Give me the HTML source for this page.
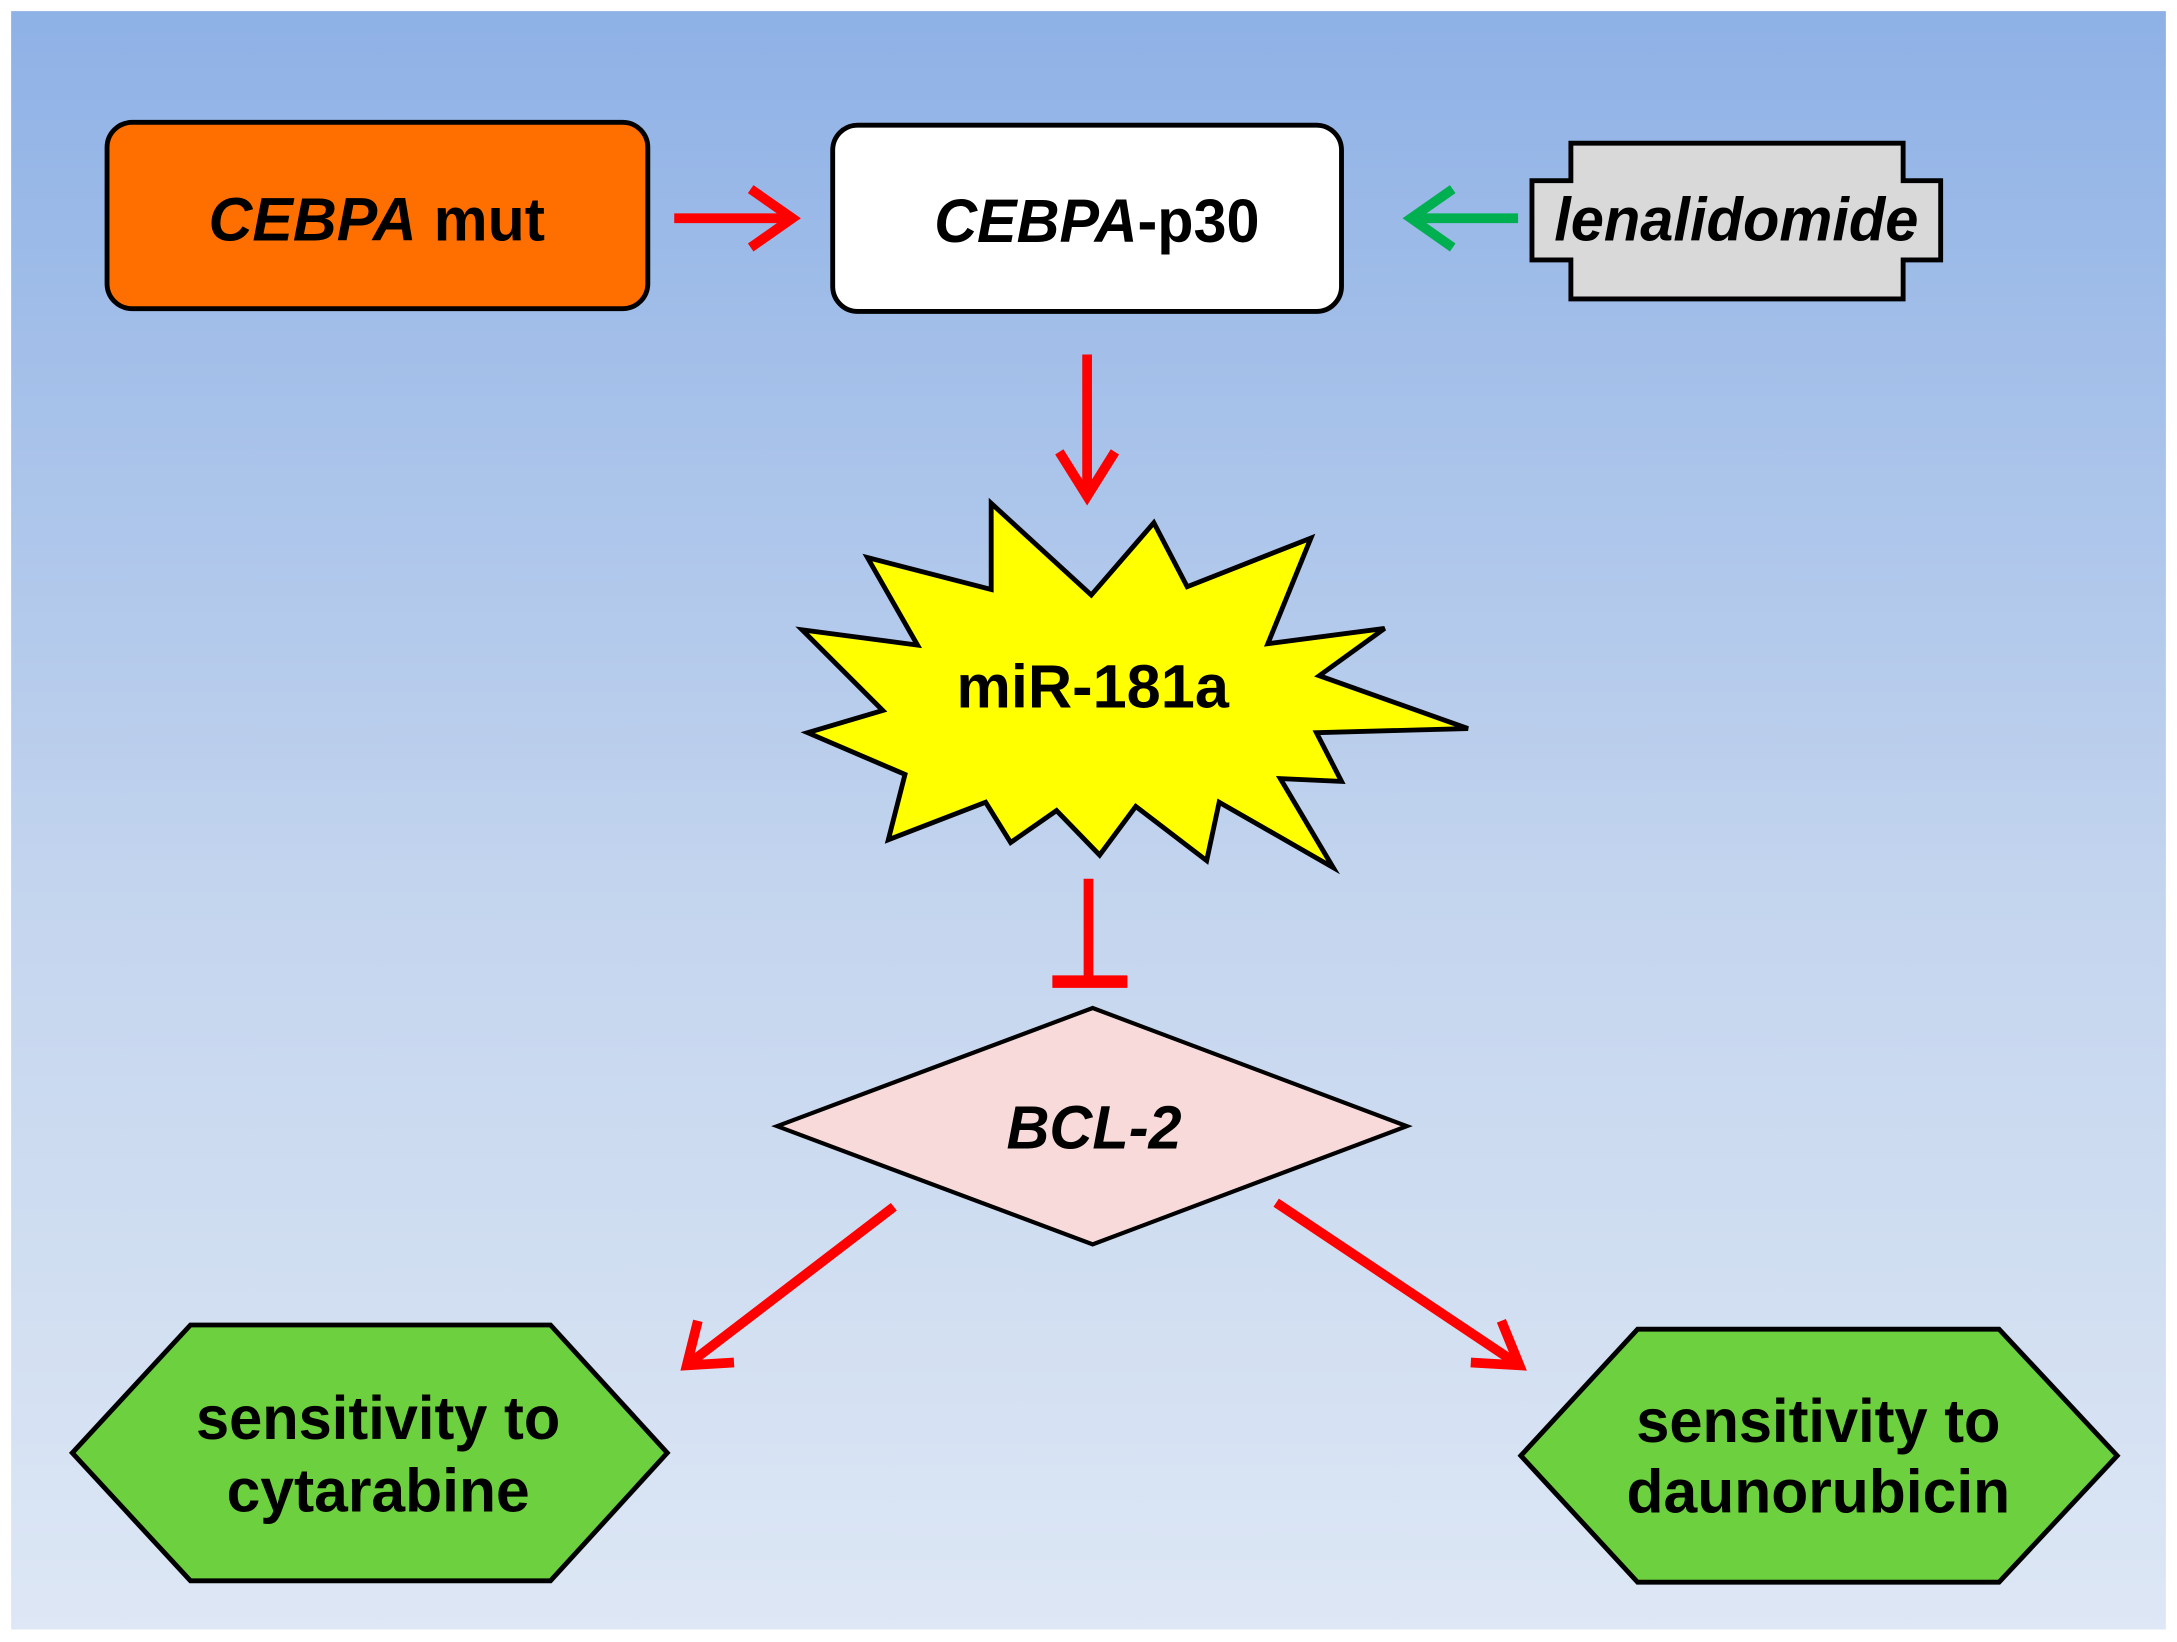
<!DOCTYPE html>
<html><head><meta charset="utf-8"><style>html,body{margin:0;padding:0;background:#fff}svg{display:block}</style></head>
<body>
<svg width="2177" height="1642" viewBox="0 0 1566 1181" preserveAspectRatio="none" xmlns="http://www.w3.org/2000/svg" font-family="Liberation Sans, Arial, sans-serif" font-weight="bold">
<defs>
<linearGradient id="bg" x1="0" y1="0" x2="0" y2="1">
<stop offset="0" stop-color="#8eb1e6"/>
<stop offset="0.55" stop-color="#c4d5ee"/>
<stop offset="1" stop-color="#dde7f5"/>
</linearGradient>
</defs>
<rect x="0" y="0" width="1566" height="1181" fill="#fff"/>
<rect x="8" y="8" width="1550" height="1164" fill="url(#bg)"/>

<rect x="77" y="88" width="389" height="134" rx="18" fill="#ff6f00" stroke="#000" stroke-width="3.5"/>
<text x="271" y="173" font-size="44" text-anchor="middle" textLength="242" lengthAdjust="spacingAndGlyphs"><tspan font-style="italic">CEBPA</tspan> mut</text>

<rect x="599" y="90" width="366" height="134" rx="18" fill="#fff" stroke="#000" stroke-width="3.5"/>
<text x="789" y="174" font-size="44" text-anchor="middle" textLength="234" lengthAdjust="spacingAndGlyphs"><tspan font-style="italic">CEBPA</tspan>-p30</text>

<polygon points="1130,103 1369,103 1369,130 1396,130 1396,187 1369,187 1369,215 1130,215 1130,187 1102,187 1102,130 1130,130" fill="#d9d9d9" stroke="#000" stroke-width="3.5"/>
<text x="1249" y="173" font-size="44" font-style="italic" text-anchor="middle" textLength="262" lengthAdjust="spacingAndGlyphs">lenalidomide</text>

<g stroke="#ff0000" stroke-width="7" fill="none" stroke-linecap="butt">
<line x1="485" y1="157" x2="570" y2="157"/>
<polyline points="540,136 570,157 540,178"/>
<line x1="782" y1="255" x2="782" y2="357"/>
<polyline points="762,325 782,357 802,325"/>
<line x1="783" y1="632" x2="783" y2="704"/>
<line x1="757" y1="706" x2="811" y2="706" stroke-width="9"/>
<line x1="643" y1="868" x2="494" y2="982"/>
<polyline points="502,950 494,982 528,980"/>
<line x1="918" y1="865" x2="1093" y2="982"/>
<polyline points="1058,980 1093,982 1080,950"/>
</g>
<g stroke="#00b050" stroke-width="7" fill="none">
<line x1="1092" y1="157" x2="1015" y2="157"/>
<polyline points="1045,136 1015,157 1045,178"/>
</g>

<polygon points="713,362 713,424 624,401 660,464 577,453 635,511 581,527 651,557 639,604 709,577 727,606 760,583 791,615 817,580 868,619 877,577 959,624 921,560 965,562 947,527 1056,524 949,486 996,452 912,463 943,387 854,422 830,376 785,428" fill="#ffff00" stroke="#000" stroke-width="3.5"/>
<text x="786" y="509" font-size="44" text-anchor="middle" textLength="196" lengthAdjust="spacingAndGlyphs">miR-181a</text>

<polygon points="559,810 786,725 1012,810 786,895" fill="#f8dada" stroke="#000" stroke-width="3"/>
<text x="787" y="826" font-size="44" font-style="italic" text-anchor="middle" textLength="126" lengthAdjust="spacingAndGlyphs">BCL-2</text>

<polygon points="52,1045 137,953 396,953 480,1045 396,1137 137,1137" fill="#6dd03e" stroke="#000" stroke-width="3.5"/>
<text x="272" y="1035" font-size="44" text-anchor="middle" textLength="262" lengthAdjust="spacingAndGlyphs">sensitivity to</text>
<text x="272" y="1087" font-size="44" text-anchor="middle" textLength="218" lengthAdjust="spacingAndGlyphs">cytarabine</text>

<polygon points="1094,1047 1178,956 1438,956 1523,1047 1438,1138 1178,1138" fill="#6dd03e" stroke="#000" stroke-width="3.5"/>
<text x="1308" y="1037" font-size="44" text-anchor="middle" textLength="262" lengthAdjust="spacingAndGlyphs">sensitivity to</text>
<text x="1308" y="1088" font-size="44" text-anchor="middle" textLength="276" lengthAdjust="spacingAndGlyphs">daunorubicin</text>
</svg>
</body></html>
